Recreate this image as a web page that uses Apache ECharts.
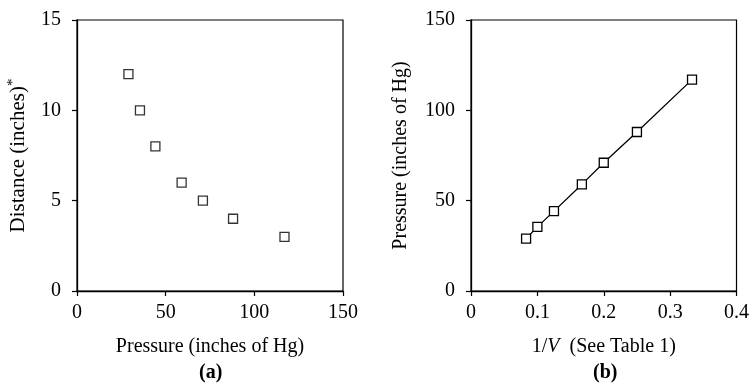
<!DOCTYPE html>
<html>
<head>
<meta charset="utf-8">
<script src="https://cdn.jsdelivr.net/npm/echarts@6/dist/echarts.min.js"></script>
<style>
  html, body { margin: 0; padding: 0; background: #fff; }
  #chart { width: 752px; height: 392px; }
</style>
</head>
<body>
<div id="chart"></div>
<script>
// Boyle's data
const distance = [12, 10, 8, 6, 5, 4, 3];           // inches (panel a, y)
const pressure = [29, 35.5, 44.2, 59, 71, 88, 117];  // inches of Hg
const invV = [0.083, 0.1, 0.125, 0.167, 0.2, 0.25, 0.333]; // 1/V (panel b, x)

const font = 'Liberation Serif';

const chart = echarts.init(document.getElementById('chart'));

const axisCommon = {
  axisLine: { show: true, onZero: false, lineStyle: { color: '#000', width: 1.3 } },
  axisTick: { show: true, inside: false, length: 5, lineStyle: { color: '#000', width: 1.2 } },
  splitLine: { show: false },
  axisLabel: { color: '#000', fontFamily: font, fontSize: 20 },
  nameLocation: 'middle',
  nameTextStyle: { color: '#000', fontFamily: font, fontSize: 20 }
};

const squareStyle = { color: '#fff', borderColor: '#000', borderWidth: 1.3 };

chart.setOption({
  animation: false,
  grid: [
    { left: 77, top: 20, width: 266, height: 271, show: true, borderColor: '#000', borderWidth: 1.2 },
    { left: 471, top: 20, width: 266, height: 271, show: true, borderColor: '#000', borderWidth: 1.2 }
  ],
  xAxis: [
    Object.assign({}, axisCommon, {
      gridIndex: 0, type: 'value', min: 0, max: 150, interval: 50,
      name: 'Pressure (inches of Hg)', nameGap: 46,
      axisLabel: Object.assign({}, axisCommon.axisLabel, { margin: 12 })
    }),
    Object.assign({}, axisCommon, {
      gridIndex: 1, type: 'value', min: 0, max: 0.4, interval: 0.1,
      name: '{i|1/}{it|V}{i|  (See Table 1)}', nameGap: 46,
      nameTextStyle: {
        color: '#000', fontFamily: font, fontSize: 20,
        rich: {
          i: { fontFamily: font, fontSize: 20, color: '#000' },
          it: { fontFamily: font, fontSize: 20, fontStyle: 'italic', color: '#000' }
        }
      },
      axisLabel: Object.assign({}, axisCommon.axisLabel, { margin: 12 })
    })
  ],
  yAxis: [
    Object.assign({}, axisCommon, {
      gridIndex: 0, type: 'value', min: 0, max: 15, interval: 5,
      name: 'Distance (inches){s|*}', nameGap: 46,
      nameTextStyle: {
        color: '#000', fontFamily: font, fontSize: 21,
        rich: {
          s: { fontFamily: font, fontSize: 15, color: '#000', verticalAlign: 'top', padding: [0, 0, 10, 0] }
        }
      },
      axisLabel: Object.assign({}, axisCommon.axisLabel, { margin: 16 })
    }),
    Object.assign({}, axisCommon, {
      gridIndex: 1, type: 'value', min: 0, max: 150, interval: 50,
      name: 'Pressure (inches of Hg)', nameGap: 60,
      axisLabel: Object.assign({}, axisCommon.axisLabel, { margin: 16 })
    })
  ],
  series: [
    {
      type: 'scatter', xAxisIndex: 0, yAxisIndex: 0,
      symbol: 'rect', symbolSize: 9, itemStyle: squareStyle,
      data: pressure.map((p, i) => [p, distance[i]])
    },
    {
      type: 'line', xAxisIndex: 1, yAxisIndex: 1,
      symbol: 'rect', symbolSize: 9, showSymbol: true,
      lineStyle: { color: '#000', width: 1.3 }, itemStyle: squareStyle,
      data: invV.map((v, i) => [v, pressure[i]])
    }
  ],
  graphic: [
    { type: 'text', left: 199, top: 363, style: { text: '(a)', font: 'bold 20px "Liberation Serif"', fill: '#000' } },
    { type: 'text', left: 593, top: 363, style: { text: '(b)', font: 'bold 20px "Liberation Serif"', fill: '#000' } }
  ]
});
</script>
</body>
</html>
